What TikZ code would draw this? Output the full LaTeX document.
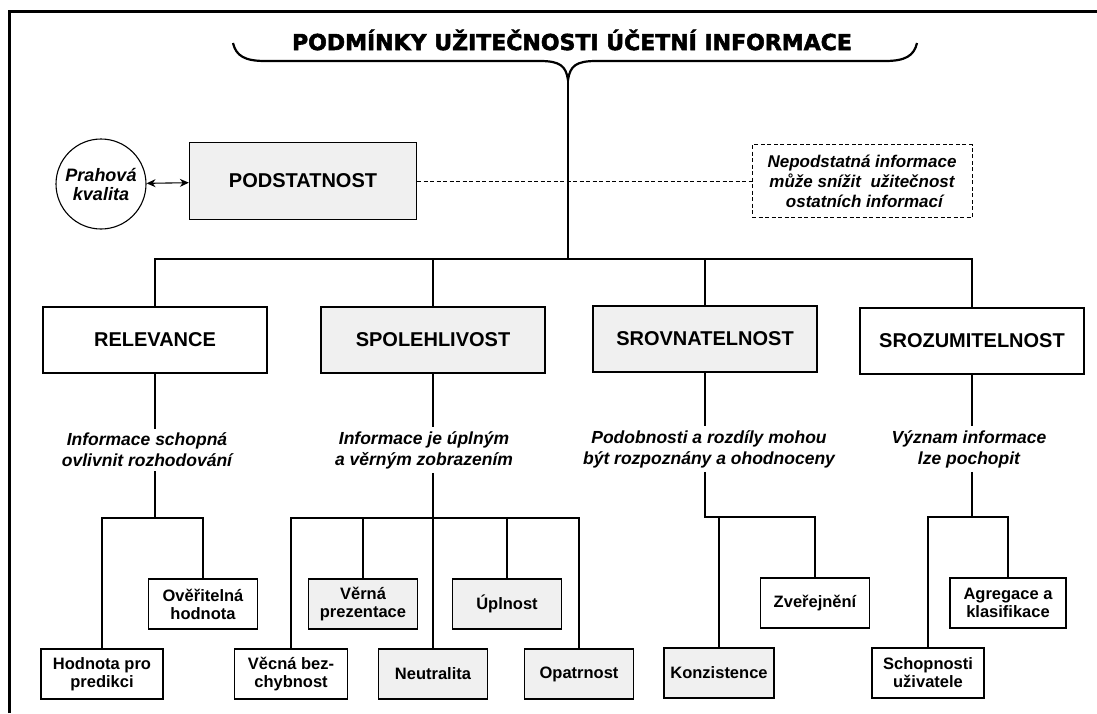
\documentclass[tikz,border=0pt]{standalone}
\usepackage{fontspec}
\setmainfont{Liberation Sans}
\newfontfamily\titlefont[BoldFeatures={FakeBold=2.4}]{DejaVu Sans}
\usetikzlibrary{arrows.meta}

\begin{document}
\begin{tikzpicture}[x=1pt, y=-1pt,
		mainbox/.style={draw, line width=1.3pt, minimum width=224pt, minimum height=66pt, font=\fontsize{20}{23}\selectfont\bfseries},
		smallbox/.style={draw, line width=1.3pt, minimum width=109pt, minimum height=50pt, align=center, font=\fontsize{16.5}{18}\selectfont\bfseries},
		desc/.style={align=center, inner sep=4pt, font=\fontsize{17.5}{21}\selectfont\bfseries\itshape},
		link/.style={line width=1.1pt},
		scan/.style={fill=black!6}]
			\useasboundingbox (0,0) rectangle (1097,713);
			\draw[line width=3pt] (9,713) -- (9,11) -- (1097,11);
			
			\node[font=\titlefont\fontsize{22}{25}\selectfont\bfseries] (title) at (572,40) {PODMÍNKY UŽITEČNOSTI ÚČETNÍ INFORMACE};
			\coordinate (tip) at (568,80);
			\coordinate (bus) at (568,259);
			\draw[line width=2.2pt] (233,43) .. controls (236,56) and (245,61) .. (265,61) -- (540,61) .. controls (560,61) and (566,66) .. (tip)
				.. controls (570,66) and (576,61) .. (596,61) -- (885,61) .. controls (905,61) and (914,56) .. (917,43);
			
			\node[draw,circle, line width=1.1pt, minimum size=90pt, inner sep=1pt, align=center, font=\fontsize{18}{19}\selectfont\bfseries\itshape] (prah) at (101,184) {Prahová\\kvalita};
			\node[mainbox, scan, minimum width=227pt, minimum height=77pt] (podst) at (303,181) {PODSTATNOST};
			\node[draw, dash pattern=on 4pt off 2.5pt, line width=1pt, minimum width=220pt, minimum height=73pt, align=center, font=\fontsize{17}{20}\selectfont\bfseries\itshape] (note) at (862,181) {Nepodstatná informace\\může snížit\ \ užitečnost\\\ ostatních informací};
			
			\path (prah) edge[{Stealth[length=9pt, width=8pt]}-{Stealth[length=9pt, width=8pt]}, link] (podst);
			\path (podst) edge[dash pattern=on 4pt off 2.5pt, line width=1pt] (note);
			
			\node[mainbox] (rel) at (155,340) {RELEVANCE};
			\node[mainbox, scan] (spol) at (433,340) {SPOLEHLIVOST};
			\node[mainbox, scan] (srov) at (705,339) {SROVNATELNOST};
			\node[mainbox] (sroz) at (972,341) {SROZUMITELNOST};
			
			\draw[link] (tip) -- (bus);
			\draw[link] (rel) |- (bus) -| (sroz);
			\draw[link] (spol) -- (spol |- bus);
			\draw[link] (srov) -- (srov |- bus);
			
			\node[desc] (relTxt) at (147,450) {Informace schopná\\ovlivnit rozhodování};
			\node[desc] (spolTxt) at (424,450) {Informace je úplným\\a věrným zobrazením};
			\node[desc] (srovTxt) at (709,449) {Podobnosti a rozdíly mohou\\být rozpoznány a ohodnoceny};
			\node[desc] (srozTxt) at (969,449) {Význam informace\\lze pochopit};
			
			\draw[link] (rel) -- (rel |- relTxt.north);
			\draw[link] (spol) -- (spol |- spolTxt.north);
			\draw[link] (srov) -- (srov |- srovTxt.north);
			\draw[link] (sroz) -- (sroz |- srozTxt.north);
			
			\coordinate (relJ) at (155,518);
			\coordinate (spolJ) at (433,518);
			\coordinate (srovJ) at (705,517);
			\coordinate (srozJ) at (972,517);
			
			\node[smallbox, minimum width=122pt] (hodn) at (102,674) {Hodnota pro\\predikci};
			\node[smallbox] (over) at (203,604) {Ověřitelná\\hodnota};
			\node[smallbox, minimum width=113pt] (vecna) at (291,674) {Věcná bez-\\chybnost};
			\node[smallbox, scan] (verna) at (363,604) {Věrná\\prezentace};
			\node[smallbox, scan] (neut) at (433,674) {Neutralita};
			\node[smallbox, scan] (upln) at (507,604) {Úplnost};
			\node[smallbox, scan] (opat) at (579,674) {Opatrnost};
			\node[smallbox, scan, minimum width=110pt] (konz) at (719,673) {Konzistence};
			\node[smallbox] (zver) at (815,603) {Zveřejnění};
			\node[smallbox, minimum width=112pt] (schop) at (928,673) {Schopnosti\\uživatele};
			\node[smallbox, minimum width=116pt] (agreg) at (1008,603) {Agregace a\\klasifikace};
			
			\draw[link] (rel |- relTxt.south) -- (relJ);
			\draw[link] (hodn) |- (relJ) -| (over);
			
			\draw[link] (spol |- spolTxt.south) -- (neut);
			\draw[link] (vecna) |- (spolJ) -| (opat);
			\draw[link] (verna) -- (verna |- spolJ);
			\draw[link] (upln) -- (upln |- spolJ);
			
			\draw[link] (srov |- srovTxt.south) -- (srovJ) -| (zver);
			\draw[link] (konz) -- (konz |- srovJ);
			
			\draw[link] (sroz |- srozTxt.south) -- (srozJ);
			\draw[link] (schop) |- (srozJ) -| (agreg);
			
		\end{tikzpicture}
\end{document}
